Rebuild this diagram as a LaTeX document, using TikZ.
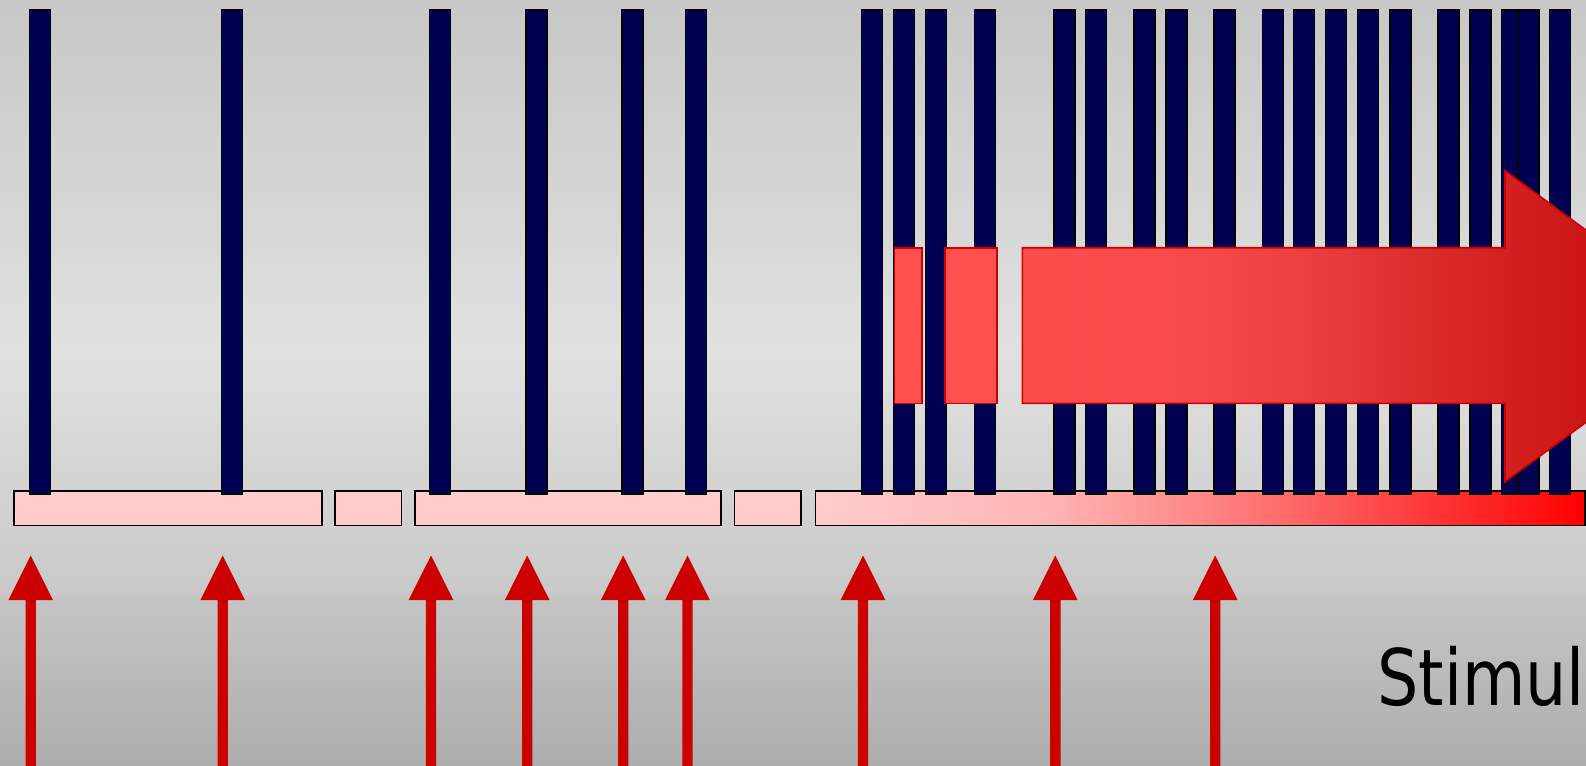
\documentclass[tikz,border=0pt]{standalone}
\usepackage{fontspec}
\newfontfamily\stimfont{DejaVu Sans}
\usepackage{graphicx}
\definecolor{barnavy}{RGB}{0,0,82}
\definecolor{pinkfill}{HTML}{FFCCCC}
\definecolor{stimred}{HTML}{CC0000}
\definecolor{midred}{HTML}{FF5050}
\definecolor{ag1}{HTML}{FC4D4D}
\definecolor{ag2}{HTML}{F64949}
\definecolor{ag3}{HTML}{EC4040}
\definecolor{ag4}{HTML}{DE3030}
\definecolor{ag5}{HTML}{D42020}
\definecolor{ag6}{HTML}{CC1616}
\pgfdeclareverticalshading{bgshade}{100bp}{%
  color(0bp)=(black!32); color(25bp)=(black!32); color(35.8bp)=(black!23);
  color(36.4bp)=(black!21); color(52.1bp)=(black!12); color(75bp)=(black!22); color(100bp)=(black!22)}
\pgfdeclarehorizontalshading{pinkgrad}{100bp}{%
  color(0bp)=(pinkfill); color(25bp)=(pinkfill); color(40bp)=(red!29);
  color(50bp)=(red!47); color(60bp)=(red!68); color(75bp)=(red); color(100bp)=(red)}
\pgfdeclarehorizontalshading{arrowgrad}{100bp}{%
  color(0bp)=(ag1); color(25bp)=(ag1); color(38bp)=(ag2); color(45bp)=(ag3);
  color(52bp)=(ag4); color(59.7bp)=(ag5); color(65.6bp)=(ag6); color(75bp)=(ag6); color(100bp)=(ag6)}
\tikzset{
  spike/.style={fill=barnavy, draw=black, line width=1.3pt},
  period/.style={fill=pinkfill, draw=black, line width=1.6pt},
  stimarrow/.style={fill=stimred, draw=none},
  midbox/.style={fill=midred, draw=stimred, line width=1.6pt},
}
\begin{document}
\begin{tikzpicture}[x=1pt,y=-1pt]
\useasboundingbox (0,0) rectangle (1586,765);
\clip (0,0) rectangle (1586,765);
% background
\shade[shading=bgshade] (0,0) rectangle (1586,765);
% periods
\draw[period] (14.2,491) rectangle (321.7,525.5);
\draw[period] (334.8,491) rectangle (401.6,525.5);
\draw[period] (414.7,491) rectangle (721.2,525.5);
\draw[period] (734.4,491) rectangle (801.1,525.5);
\shade[shading=pinkgrad, draw=black, line width=1.6pt] (815.3,491) rectangle (1585,525.5);
% spikes
\foreach \x in {29.3,221.5,429.5,526,622,685.8,861.4,893.8,925.6,974.2,1054.1,1085.5,1134,1165.9,1213.9,1262.5,1293.8,1325.7,1357.6,1390,1438,1469.9,1501.7,1517.9,1549.8}
  \draw[spike] (\x,10) rectangle ++(21,484);
% stimulus arrows
\foreach \c in {30.7,222.7,431,527.2,623.2,687.5,863,1055.3,1215.2}
  \fill[stimarrow] (\c,555.5) -- (\c+22.3,600) -- (\c+5.2,600) -- (\c+5.2,766) -- (\c-5.2,766) -- (\c-5.2,600) -- (\c-22.3,600) -- cycle;
% red boxes
\draw[midbox] (894.3,247.7) rectangle (922,403.3);
\draw[midbox] (945,247.7) rectangle (996.7,403.3);
% big arrow
\shade[shading=arrowgrad, draw=stimred, line width=1.6pt]
  (1022.3,247.7) -- (1505,247.7) -- (1505,170.7) -- (1717,326.2) -- (1505,481.7) -- (1505,403.3) -- (1022.3,403.3) -- cycle;
% label
\node[anchor=base west, inner sep=0pt, font=\stimfont\fontsize{78}{80}\selectfont] (stim) at (1377,705) {\scalebox{0.835}[1]{Stimul}};
\end{tikzpicture}
\end{document}
